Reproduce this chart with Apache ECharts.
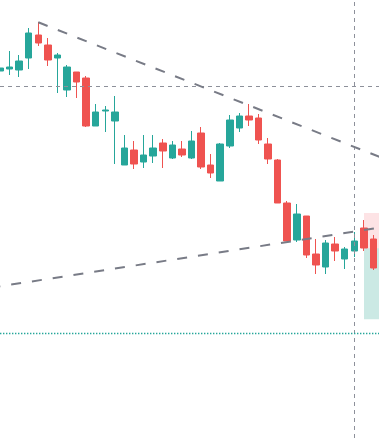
<!DOCTYPE html>
<html>
<head>
<meta charset="utf-8">
<script src="https://cdn.jsdelivr.net/npm/echarts@6/dist/echarts.min.js"></script>
<style>
html,body{margin:0;padding:0;background:#ffffff;}
#chart{width:379px;height:438px;}
</style>
</head>
<body>
<div id="chart"></div>
<script>
// Bar index positions (sessions)
var sessions = [0,1,2,3,4,5,6,7,8,9,10,11,12,13,14,15,16,17,18,19,20,21,22,23,24,25,26,27,28,29,30,31,32,33,34,35,36,37,38,39];
var opens  = [142.9,143.1,143.0,144.2,146.5,145.5,144.2,141.0,142.8,142.2,137.4,138.9,137.9,133.5,135.0,133.8,134.4,135.7,134.2,135.1,134.2,136.7,133.5,131.9,135.4,137.2,138.4,138.2,135.6,134.0,129.7,126.0,128.4,124.6,123.3,125.6,124.1,124.9,127.2,126.1];
var closes = [143.2,143.3,143.9,146.7,145.7,144.0,144.5,143.3,141.8,137.4,138.8,139.0,138.8,135.2,133.6,134.5,135.2,134.9,135.5,134.5,135.9,133.3,132.7,135.6,138.0,138.4,138.0,136.0,134.1,129.7,125.9,128.6,124.5,123.5,125.7,124.9,125.1,125.9,125.2,123.2];
var lows   = [142.5,142.5,142.3,143.1,145.4,143.4,140.7,140.3,140.2,137.3,137.4,136.8,133.6,133.5,133.1,133.2,133.7,133.2,134.1,134.3,134.1,133.1,132.2,131.9,135.2,136.8,137.4,135.6,133.6,129.7,125.9,125.8,124.2,122.6,122.6,123.9,123.1,124.3,124.9,123.0];
var highs  = [144.3,144.9,144.5,147.2,147.8,146.2,144.7,143.5,142.8,142.4,139.6,139.4,140.4,136.5,135.9,136.5,136.5,136.1,135.9,135.9,136.9,137.3,134.6,135.7,138.5,138.7,139.6,138.6,136.2,134.1,129.9,129.6,128.4,126.1,126.0,126.3,125.3,126.8,128.0,126.5];

// Drawings (session index, price)
var trendDown = [[4,147.77],[41,133.8]];
var trendUp   = [[-1,121.22],[41,127.43]];
var crossPrice = 141.4;
var crossSession = 37;
var tpLinePrice = 116.7;
var positionStart = 38.02;
var stopPrice = 128.7;
var entryPrice = 125.17;
var targetPrice = 118.07;

var candleData = sessions.map(function(s, i){ return [s, opens[i], closes[i], lows[i], highs[i]]; });

var chart = echarts.init(document.getElementById('chart'), null, {renderer:'canvas'});
chart.setOption({
  animation: false,
  backgroundColor: '#ffffff',
  grid: {left: 0, right: 0, top: 0, bottom: 0, containLabel: false},
  xAxis: {type: 'value', min: 0, max: 39.585, show: false, splitLine:{show:false}},
  yAxis: {type: 'value', min: 106.2, max: 150, show: false, splitLine:{show:false}, scale: true},
  series: [
    {
      type: 'line', data: [], z: 1, silent: true,
      markArea: {
        silent: true,
        data: [
          [{coord:[positionStart, stopPrice], itemStyle:{color:'rgba(242,54,69,0.14)'}}, {coord:[45, entryPrice]}],
          [{coord:[positionStart, entryPrice], itemStyle:{color:'rgba(8,153,129,0.21)'}}, {coord:[45, targetPrice]}]
        ]
      },
      markLine: {
        silent: true, symbol: ['none','none'], label:{show:false},
        data: [
          {yAxis: crossPrice, lineStyle:{color:'#8d909a', width:1, type:[4,4]}},
          {xAxis: crossSession, lineStyle:{color:'#8d909a', width:1, type:[4,4]}},
          {yAxis: tpLinePrice, lineStyle:{color:'#26a69a', width:1.4, type:[1.4,1.6]}}
        ]
      }
    },
    {
      type: 'candlestick', z: 3,
      data: candleData,
      encode: {x: 0, y: [1, 2, 3, 4]},
      barWidth: 7,
      itemStyle: {color:'#26a69a', color0:'#ef5350', borderColor:'#26a69a', borderColor0:'#ef5350', borderWidth:1}
    },
    {
      type: 'line', z: 5, data: trendDown, symbol: 'none', silent: true,
      lineStyle: {color:'#787b86', width:2, type:[10,11]}
    },
    {
      type: 'line', z: 5, data: trendUp, symbol: 'none', silent: true,
      lineStyle: {color:'#787b86', width:2, type:[10,11]}
    }
  ]
});
</script>
</body>
</html>
